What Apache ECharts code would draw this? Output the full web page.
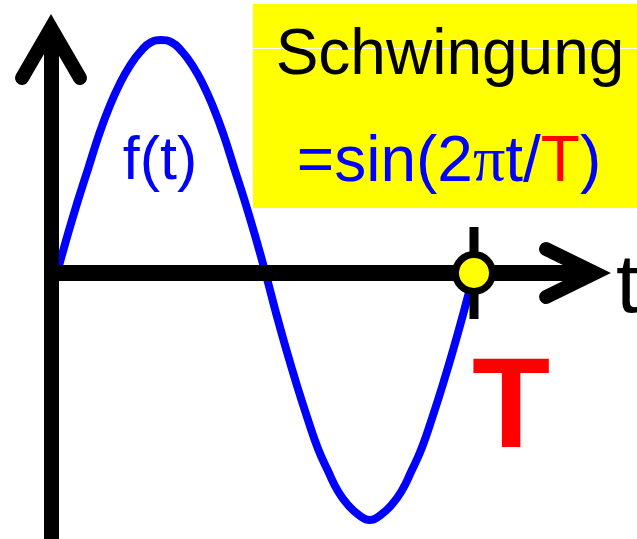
<!DOCTYPE html>
<html>
<head>
<meta charset="utf-8">
<script src="https://cdn.jsdelivr.net/npm/echarts@6/dist/echarts.min.js"></script>
<style>
html, body { margin: 0; padding: 0; background: #fff; }
#chart { width: 637px; height: 539px; }
</style>
</head>
<body>
<div id="chart"></div>
<script>
const tValues = [0, 0.025, 0.05, 0.075, 0.1, 0.125, 0.15, 0.175, 0.2, 0.225,
  0.25, 0.275, 0.3, 0.325, 0.35, 0.375, 0.4, 0.425, 0.45, 0.475,
  0.5, 0.525, 0.55, 0.575, 0.6, 0.625, 0.65, 0.675, 0.7, 0.725,
  0.75, 0.775, 0.8, 0.825, 0.85, 0.875, 0.9, 0.925, 0.95, 0.975, 1]
const fValues = [0, 0.16, 0.31, 0.45, 0.59, 0.71, 0.81, 0.89, 0.95, 0.99,
  1.0, 0.99, 0.95, 0.89, 0.81, 0.71, 0.59, 0.45, 0.31, 0.16,
  0, -0.17, -0.33, -0.48, -0.62, -0.75, -0.85, -0.94, -1.0, -1.04,
  -1.06, -1.04, -1.0, -0.94, -0.85, -0.75, -0.62, -0.48, -0.33, -0.17, 0]
// Periode T auf der t-Achse
const markT = [1]
const markF = [0]

const sineData = tValues.map((t, i) => [t, fValues[i]])
const markData = markT.map((t, i) => [t, markF[i]])

// offene Pfeilspitzen (nach oben zeigend, werden von der Achse gedreht)
const arrowY = 'path://M0 0 L35.06 60.49 A7 7 0 0 1 22.94 67.51 L0 28 L-22.94 67.51 A7 7 0 0 1 -35.06 60.49 Z'
const arrowX = 'path://M0 0 L30.29 61.82 A7 7 0 0 1 17.71 67.98 L0 31.84 L-17.71 67.98 A7 7 0 0 1 -30.29 61.82 Z'

const sans = '"Liberation Sans", Arial, sans-serif'

const chart = echarts.init(document.getElementById('chart'))
const option = {
  animation: false,
  grid: { left: 51, right: 52, top: 35, bottom: 0 },
  xAxis: {
    type: 'value',
    min: -0.0144,
    max: 1.2662,
    z: 3,
    splitLine: { show: false },
    axisTick: { show: false },
    axisLabel: { show: false },
    axisLine: {
      show: true,
      onZero: true,
      symbol: ['none', arrowX],
      symbolSize: [62, 72],
      symbolOffset: [0, -10],
      lineStyle: { color: '#000', width: 16, cap: 'butt' }
    }
  },
  yAxis: {
    type: 'value',
    min: -1.1416,
    max: 1.0215,
    z: 3,
    splitLine: { show: false },
    axisTick: { show: false },
    axisLabel: { show: false },
    axisLine: {
      show: true,
      onZero: false,
      symbol: ['none', arrowY],
      symbolSize: [72, 71],
      symbolOffset: [0, -14.5],
      lineStyle: { color: '#000', width: 15, cap: 'butt' }
    }
  },
  graphic: [
    { type: 'rect', left: 253, top: 4, shape: { width: 384, height: 204 }, style: { fill: '#ffff00' } },
    { type: 'rect', left: 253, top: 48, shape: { width: 384, height: 1 }, style: { fill: '#ffffff' } },
    {
      type: 'text', x: 450, y: 56,
      style: { text: 'Schwingung', fill: '#000', fontSize: 64, fontFamily: sans, align: 'center', verticalAlign: 'middle' }
    },
    {
      type: 'text', x: 449, y: 163,
      style: {
        text: '{b|=sin(2}{p|π}{b|t/}{r|T}{b|)}',
        align: 'center', verticalAlign: 'middle',
        rich: {
          b: { fill: '#0000ff', fontSize: 64, fontFamily: sans },
          p: { fill: '#0000ff', fontSize: 64, fontFamily: '"Liberation Serif", serif' },
          r: { fill: '#ff0000', fontSize: 64, fontFamily: sans }
        }
      }
    },
    {
      type: 'text', x: 160, y: 162,
      style: { text: 'f(t)', fill: '#0000ff', fontSize: 61, fontFamily: sans, align: 'center', verticalAlign: 'middle' }
    },
    {
      type: 'text', x: 616, y: 289,
      style: { text: 't', fill: '#000', fontSize: 84, fontFamily: sans, align: 'left', verticalAlign: 'middle' }
    },
    {
      type: 'text', x: 511, y: 412,
      style: { text: 'T', fill: '#ff0000', fontSize: 128, fontWeight: 'bold', fontFamily: sans, align: 'center', verticalAlign: 'middle' }
    }
  ],
  series: [
    {
      type: 'line',
      data: sineData,
      smooth: true,
      symbol: 'none',
      lineStyle: { color: '#0000ff', width: 8 },
      z: 2
    },
    {
      type: 'scatter',
      data: markData,
      symbol: 'rect',
      symbolSize: [9, 92],
      itemStyle: { color: '#000', opacity: 1 },
      z: 4
    },
    {
      type: 'scatter',
      data: markData,
      symbol: 'circle',
      symbolSize: 37,
      itemStyle: { color: '#ffff00', borderColor: '#000', borderWidth: 7, opacity: 1 },
      z: 5
    }
  ]
}
chart.setOption(option)
</script>
</body>
</html>
